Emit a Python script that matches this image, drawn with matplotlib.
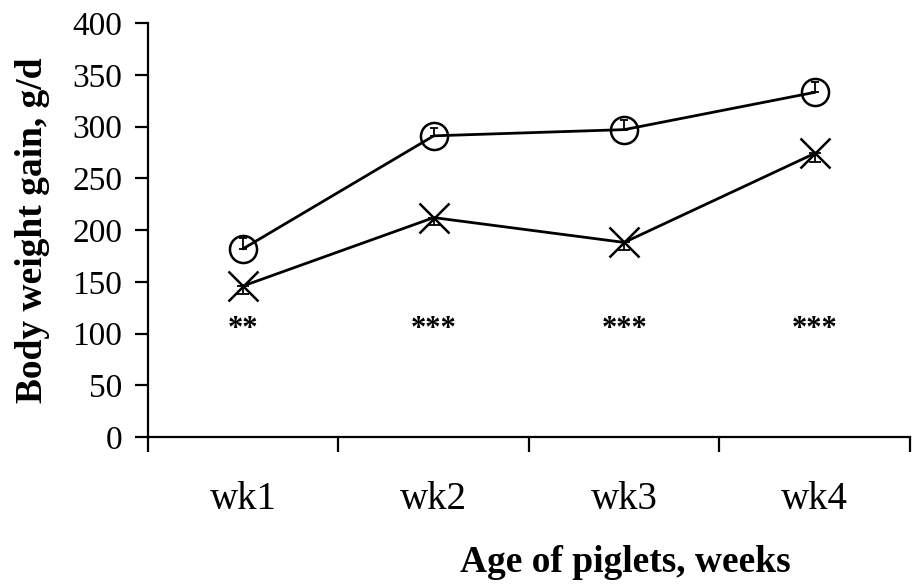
import matplotlib
matplotlib.use('Agg')
import matplotlib.pyplot as plt
import numpy as np

# data
weeks = ['wk1', 'wk2', 'wk3', 'wk4']
gain_circle = [182, 291, 297, 333]
gain_cross = [146, 212, 188, 274]
err_circle = [10, 8, 9, 10]
err_cross = [8, 7, 7, 8]
stars = ['**', '***', '***', '***']
star_y = 97

plt.rcParams['font.family'] = ['Liberation Serif', 'DejaVu Serif']

fig = plt.figure(figsize=(9.21, 5.84), dpi=100)
ax = fig.add_axes([0.1607, 0.2517, 0.8273, 0.7089])

x = np.arange(len(weeks))

# circles: upper error bar only, crosses: lower error bar only
ax.errorbar(x, gain_circle, yerr=[np.zeros(4), err_circle], fmt='none',
            ecolor='black', elinewidth=1.3, capsize=3, capthick=1.3)
ax.errorbar(x, gain_cross, yerr=[err_cross, np.zeros(4)], fmt='none',
            ecolor='black', elinewidth=1.3, capsize=4, capthick=1.3)

ax.plot(x, gain_circle, color='black', lw=2, marker='o', ms=19.5,
        mfc='none', mec='black', mew=1.8)
ax.plot(x, gain_cross, color='black', lw=2, marker='x', ms=21,
        mec='black', mew=1.8)

for xi, s in zip(x, stars):
    ax.text(xi, star_y, s, ha='center', va='baseline', fontsize=22,
            fontweight='bold')

ax.set_xlim(-0.5, len(weeks) - 0.5)
ax.set_ylim(0, 400)
ax.set_yticks(np.arange(0, 401, 50))

# category boundaries as ticks, names centred between them
ax.set_xticks(np.arange(-0.5, len(weeks), 1.0))
ax.set_xticklabels([])
ax.set_xticks(x, minor=True)
ax.set_xticklabels(weeks, minor=True)
ax.tick_params(axis='x', which='major', direction='out', length=11, width=1.6)
ax.tick_params(axis='x', which='minor', length=0, pad=32, labelsize=28)
ax.tick_params(axis='y', direction='out', length=9.5, width=1.6, pad=9,
               labelsize=24)

for side in ['top', 'right']:
    ax.spines[side].set_visible(False)
for side in ['left', 'bottom']:
    ax.spines[side].set_linewidth(1.6)

ax.set_ylabel('Body weight gain, g/d', fontsize=27, fontweight='bold')
ax.yaxis.set_label_coords(-0.128, 0.5)
ax.set_xlabel('Age of piglets, weeks', fontsize=27, fontweight='bold')
ax.xaxis.set_label_coords(0.626, -0.262)

fig.savefig('out.png', dpi=100)
